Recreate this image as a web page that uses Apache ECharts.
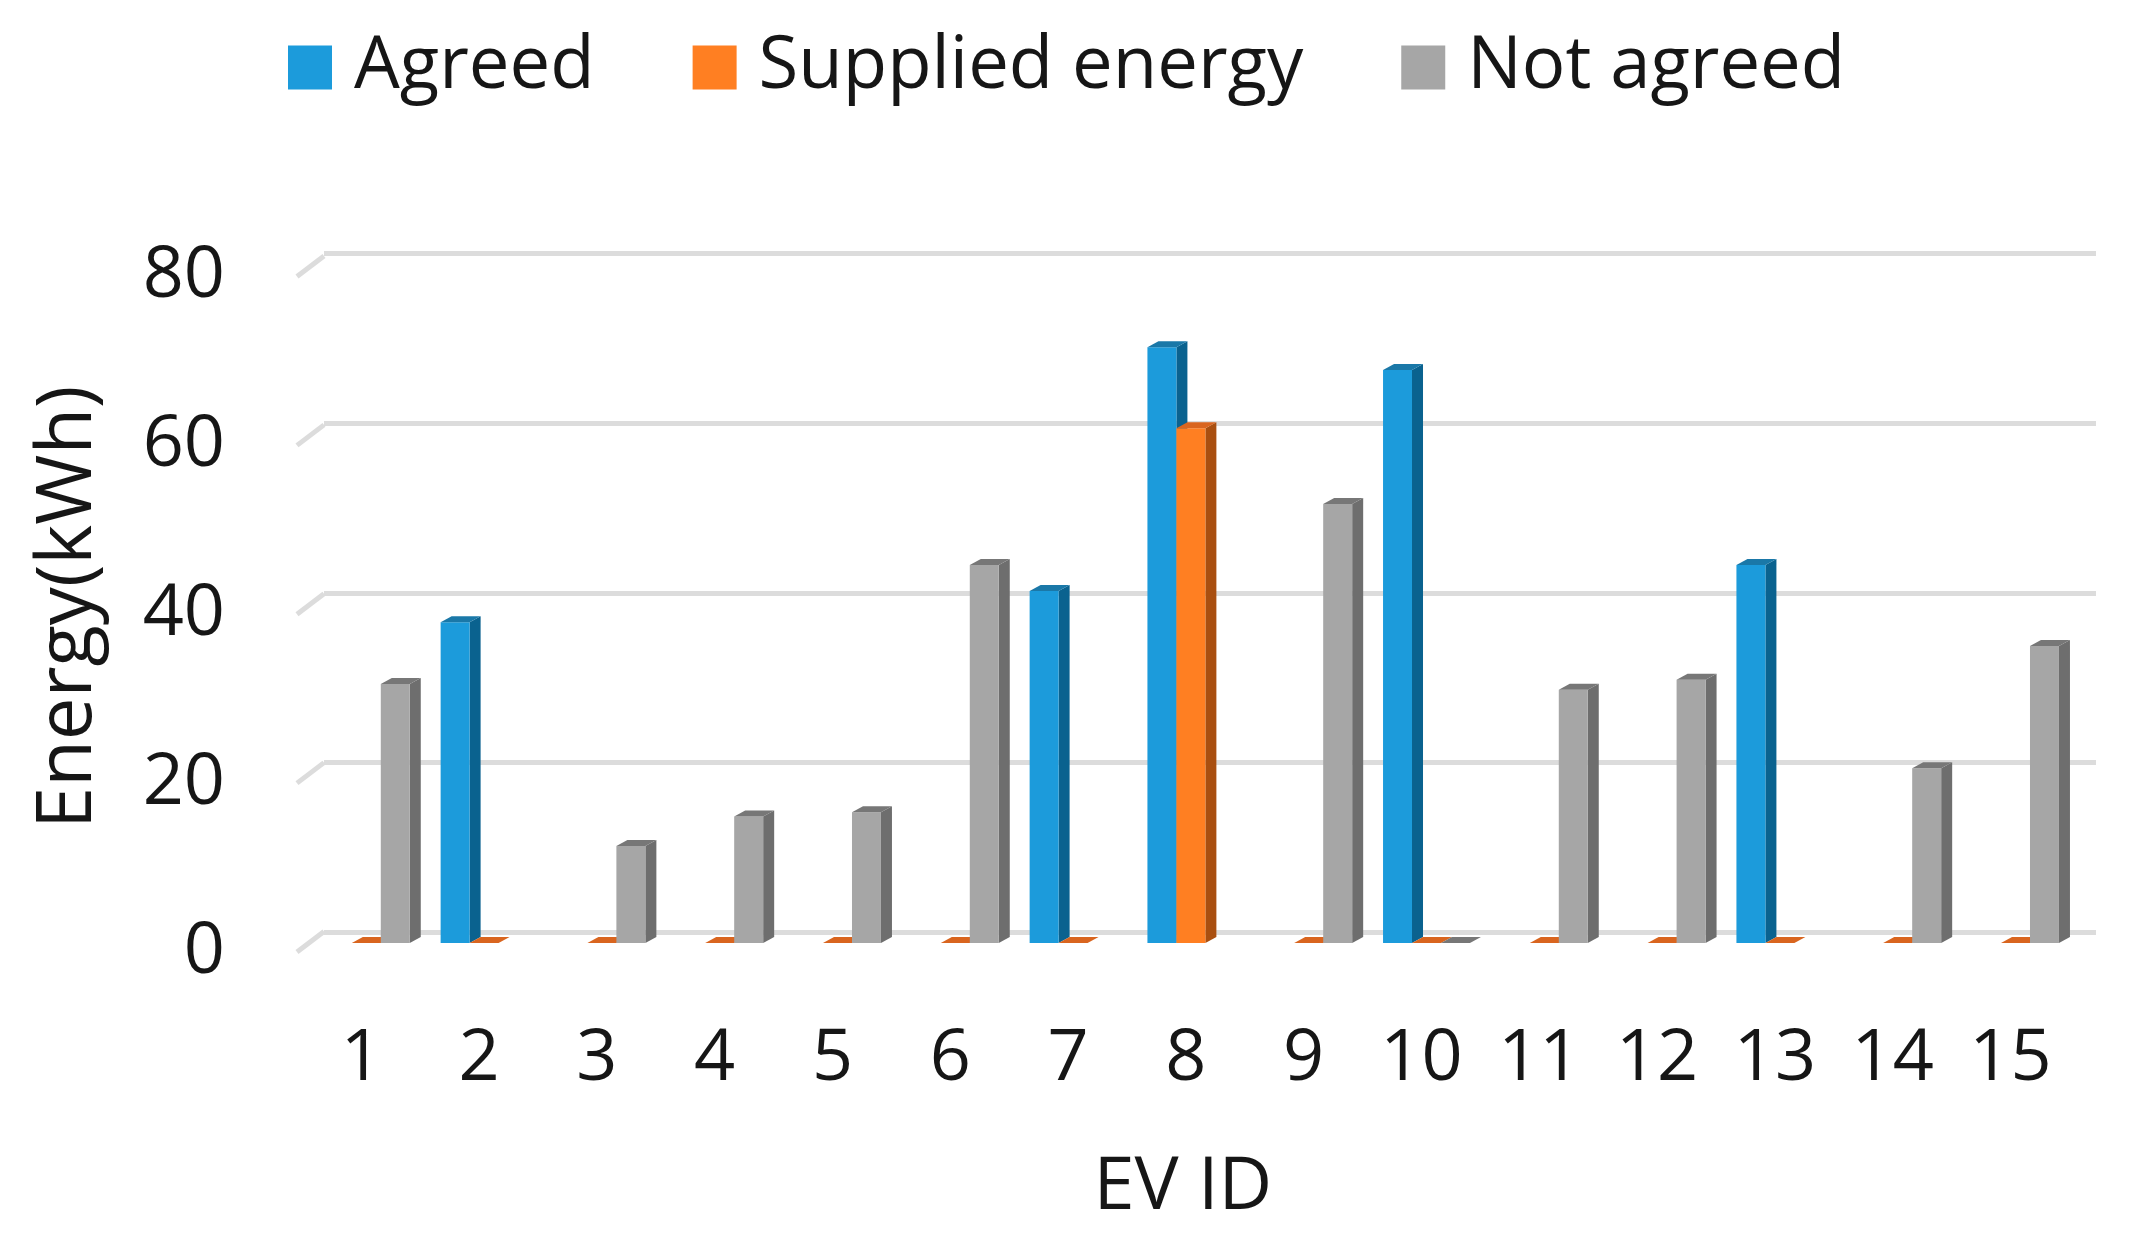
<!DOCTYPE html>
<html>
<head>
<meta charset="utf-8">
<style>html,body{margin:0;padding:0;background:#fff}#c{width:2139px;height:1248px}</style>
<script src="https://cdn.jsdelivr.net/npm/echarts@6/dist/echarts.min.js"></script>
</head>
<body>
<div id="c"></div>
<script>
const categories = ['1','2','3','4','5','6','7','8','9','10','11','12','13','14','15'];
const agreed =   [null,38,null,null,null,null,41.7,70.6,null,67.9,null,null,44.8,null,null];
const supplied = [0,0,0,0,0,0,0,61,0,0,0,0,0,0,0];
const notAgreed =[30.7,null,11.5,15,15.5,44.8,null,null,52,0,30,31.2,null,20.7,35.2];
const yTicks = [0,20,40,60,80];

const FONT = '"Open Sans"';
const TEXT = '#161616';
const DEPTH_X = 11, DEPTH_Y = 6;

function bar3d(idx, front, side, top) {
  return function (params, api) {
    const v = api.value(1);
    if (v === null || v === undefined || isNaN(v)) return;
    const cat = api.value(0);
    const layout = api.barLayout({count: 3, barGap: '0%', barCategoryGap: '26.2%'})[idx];
    const c = api.coord([cat, v]);
    const b = api.coord([cat, 0]);
    const l = c[0] + layout.offsetCenter - layout.width / 2;
    const w = layout.width, t = c[1], y0 = b[1];
    const children = [];
    if (y0 - t > 0.5) {
      children.push({type: 'polygon', shape: {points: [[l + w, t], [l + w + DEPTH_X, t - DEPTH_Y], [l + w + DEPTH_X, y0 - DEPTH_Y], [l + w, y0]]}, style: {fill: side}});
      children.push({type: 'rect', shape: {x: l, y: t, width: w, height: y0 - t}, style: {fill: front}});
    }
    children.push({type: 'polygon', shape: {points: [[l, t], [l + DEPTH_X, t - DEPTH_Y], [l + w + DEPTH_X, t - DEPTH_Y], [l + w, t]]}, style: {fill: top}});
    return {type: 'group', children};
  };
}
function stubs(params, api) {
  const p = api.coord([0, api.value(1)]);
  return {type: 'line', shape: {x1: p[0], y1: p[1], x2: p[0] + 27, y2: p[1] - 20.5}, style: {stroke: '#dcdcdc', lineWidth: 5}};
}
const zip = a => a.map((v, i) => [i, v]);

const chart = echarts.init(document.getElementById('c'), null, {renderer: 'canvas'});
chart.setOption({
  animation: false,
  backgroundColor: '#fff',
  textStyle: {fontFamily: FONT},
  legend: {
    top: 26, left: 283, itemWidth: 44, itemHeight: 44, itemGap: 98, icon: 'rect',
    textStyle: {fontFamily: FONT, fontSize: 72.5, color: TEXT, padding: [0, 0, 0, 17]},
    data: ['Agreed', 'Supplied energy', 'Not agreed']
  },
  grid: [
    {left: 307.4, top: 267.8, width: 1767, height: 675.2, outerBoundsMode: 'none'},
    {left: 324, top: 253.4, width: 1772, height: 679, outerBoundsMode: 'none'},
    {left: 297, top: 276.5, width: 27, height: 675.5, outerBoundsMode: 'none'}
  ],
  xAxis: [
    {gridIndex: 0, type: 'category', data: categories, axisLine: {show: false}, axisTick: {show: false},
     axisLabel: {fontFamily: FONT, fontSize: 72, color: TEXT, margin: 80, interval: 0, padding: [0, 10, 0, 0]},
     name: 'EV ID', nameLocation: 'middle', nameGap: 208,
     nameTextStyle: {fontFamily: FONT, fontSize: 74, color: TEXT, padding: [0, 16, 0, 0]}},
    {gridIndex: 1, type: 'value', show: false, min: 0, max: 1},
    {gridIndex: 2, type: 'value', show: false, min: 0, max: 1}
  ],
  yAxis: [
    {gridIndex: 0, type: 'value', min: 0, max: 80, interval: 20, show: false},
    {gridIndex: 1, type: 'value', min: 0, max: 80, interval: 20, axisLine: {show: false}, axisTick: {show: false},
     axisLabel: {show: false}, splitLine: {show: true, lineStyle: {color: '#dcdcdc', width: 5}}},
    {gridIndex: 2, type: 'value', min: 0, max: 80, interval: 20, axisLine: {show: false}, axisTick: {show: false},
     splitLine: {show: false},
     axisLabel: {fontFamily: FONT, fontSize: 72, color: TEXT, margin: 72},
     name: 'Energy(kWh)', nameLocation: 'middle', nameRotate: 90, nameGap: 190,
     nameTextStyle: {fontFamily: FONT, fontSize: 76, color: TEXT, padding: [0, 0, 0, 14]}}
  ],
  series: [
    {name: 'stubs', type: 'custom', xAxisIndex: 2, yAxisIndex: 2, data: yTicks.map(t => [0, t]), renderItem: stubs, silent: true, z: 1},
    {name: 'Agreed', type: 'custom', xAxisIndex: 0, yAxisIndex: 0, data: zip(agreed), encode: {x: 0, y: 1},
     itemStyle: {color: '#1c9bdb'}, renderItem: bar3d(0, '#1c9bdb', '#0a628f', '#1a78a8'), z: 3},
    {name: 'Supplied energy', type: 'custom', xAxisIndex: 0, yAxisIndex: 0, data: zip(supplied), encode: {x: 0, y: 1},
     itemStyle: {color: '#ff7f22'}, renderItem: bar3d(1, '#ff7f22', '#a94f10', '#d9651f'), z: 4},
    {name: 'Not agreed', type: 'custom', xAxisIndex: 0, yAxisIndex: 0, data: zip(notAgreed), encode: {x: 0, y: 1},
     itemStyle: {color: '#a6a6a6'}, renderItem: bar3d(2, '#a6a6a6', '#6e6e6e', '#777777'), z: 5}
  ]
});
</script>
</body>
</html>
